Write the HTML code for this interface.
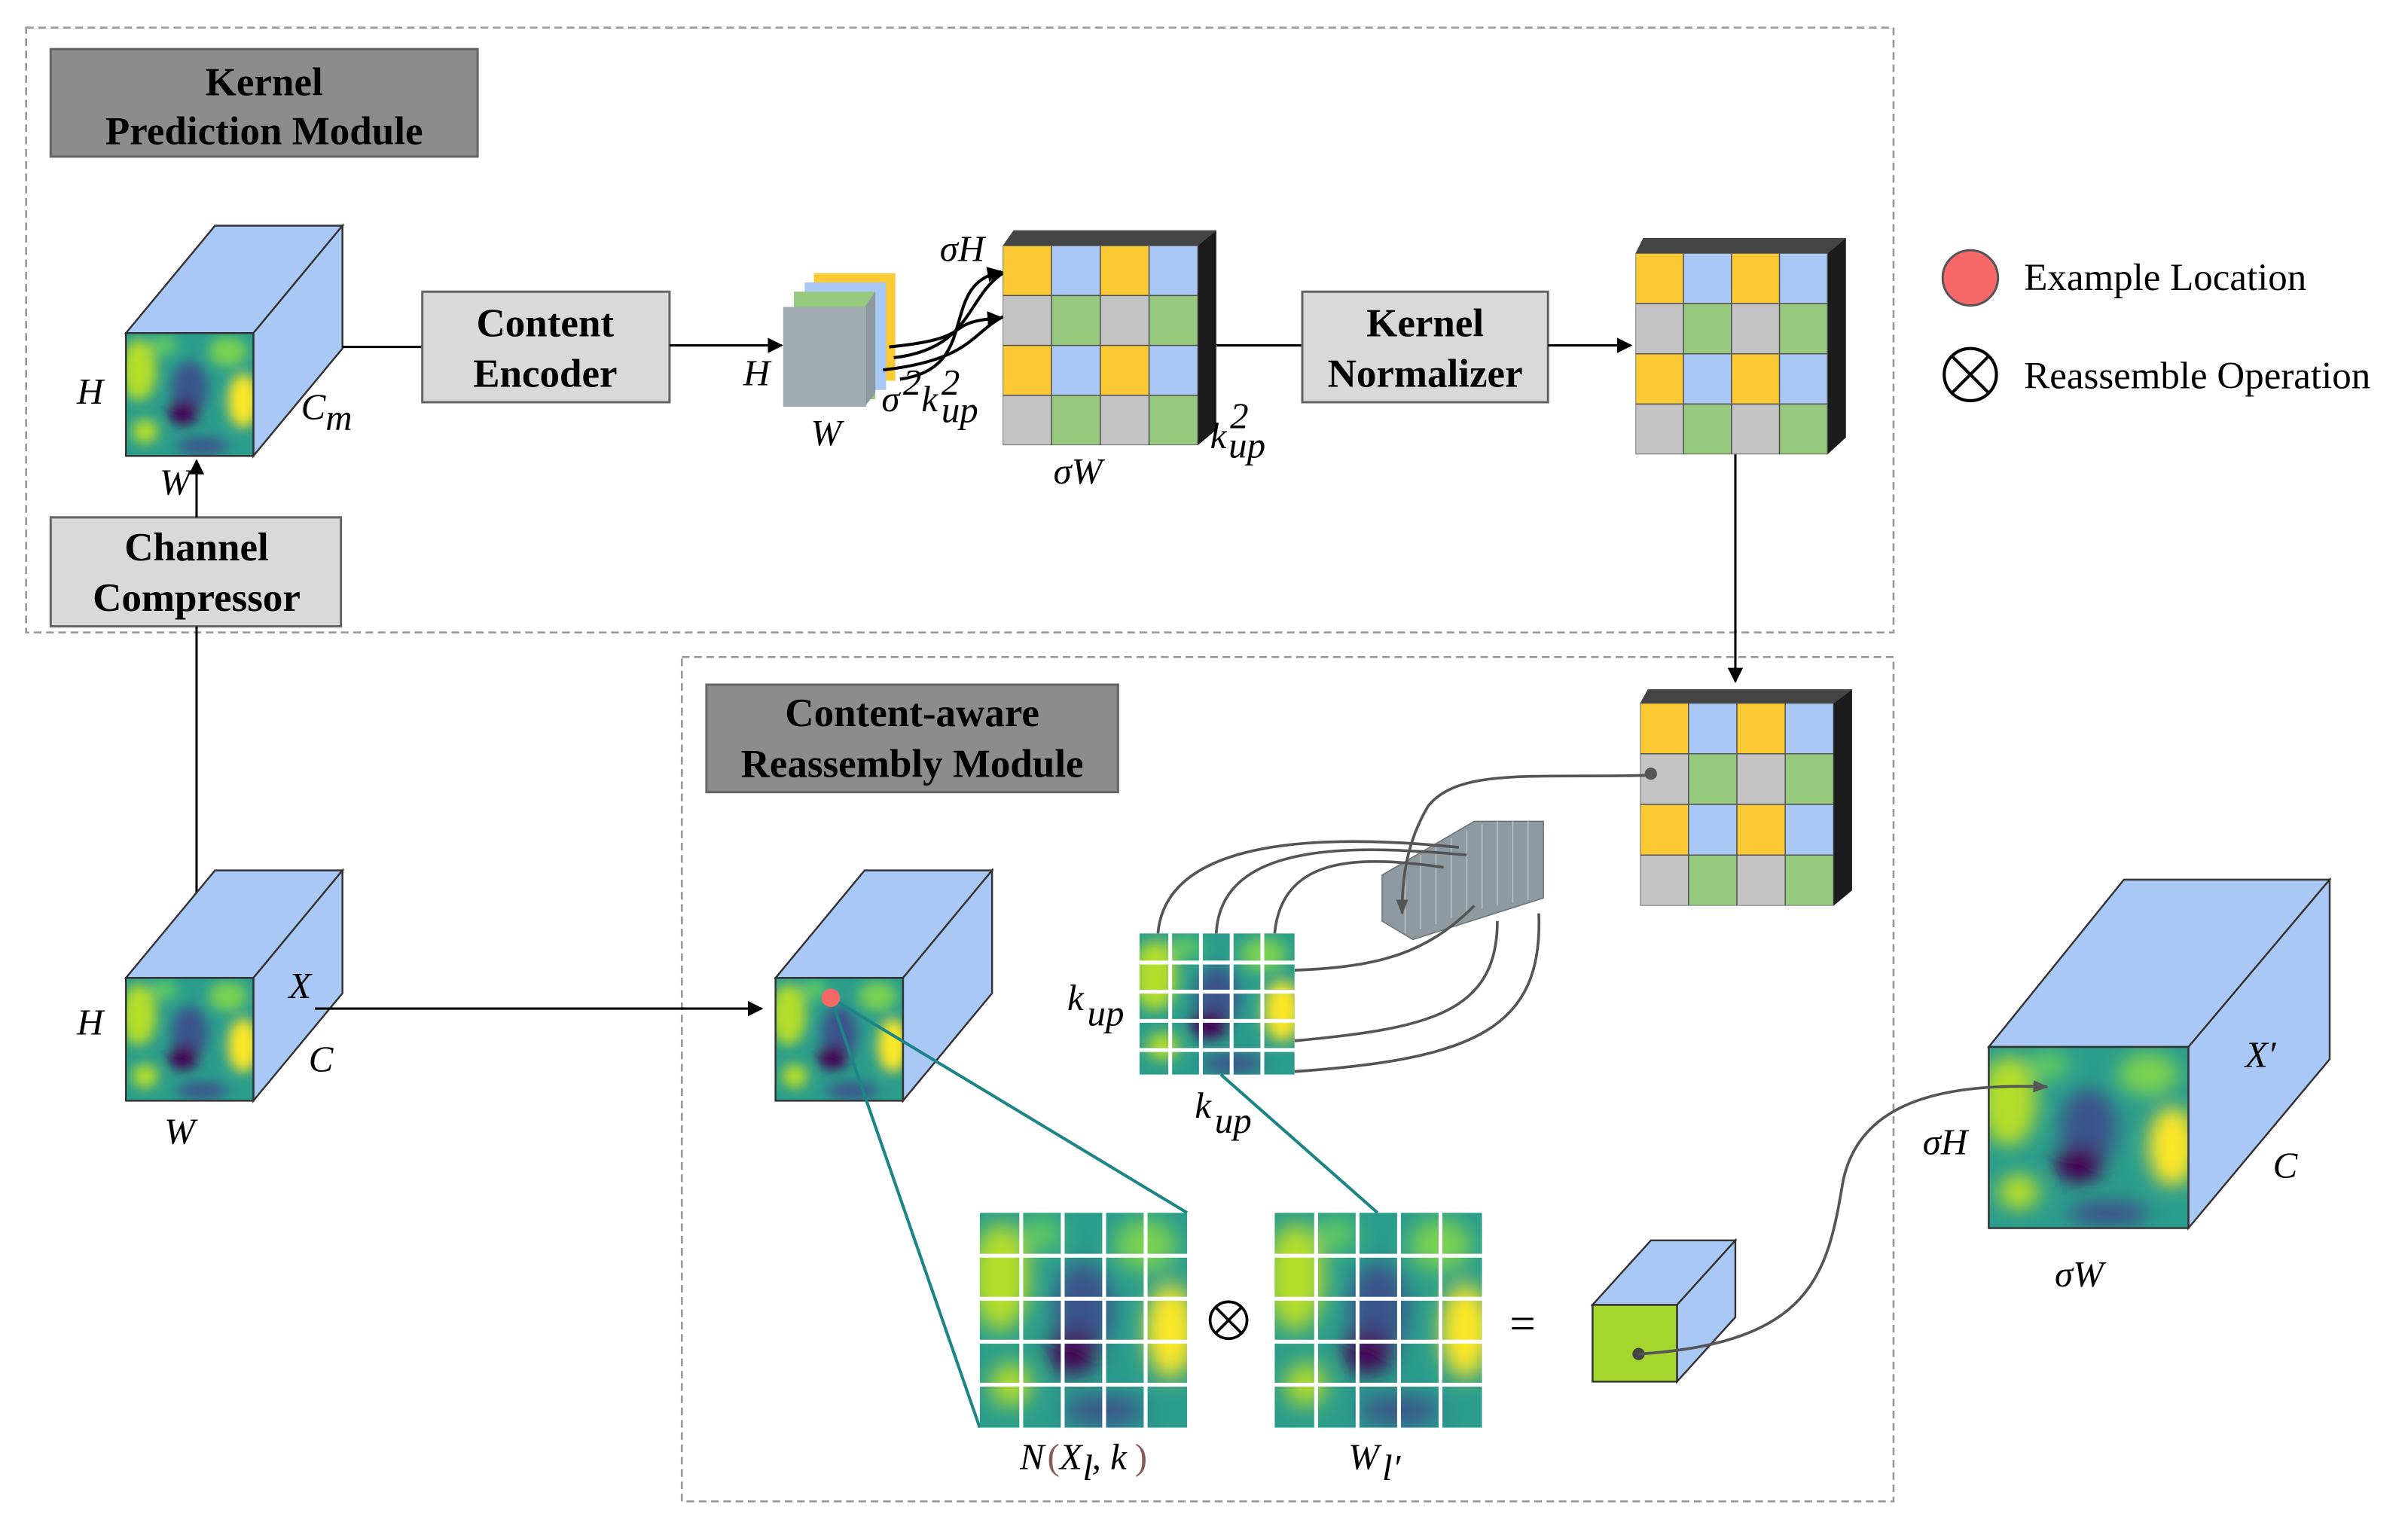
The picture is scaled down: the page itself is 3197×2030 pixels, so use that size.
<!DOCTYPE html>
<html><head><meta charset="utf-8"><style>
html,body{margin:0;padding:0;background:#fff}
svg{display:block}
text{font-family:"Liberation Serif",serif}
.b{font-weight:bold;font-size:26px;text-anchor:middle}
.i{font-style:italic;font-size:24px}
</style></head><body>
<svg width="3197" height="2030" viewBox="0 0 1568 996" preserveAspectRatio="none" xmlns="http://www.w3.org/2000/svg">
<defs>
<filter id="bl" x="-20%" y="-20%" width="140%" height="140%"><feGaussianBlur stdDeviation="5"/></filter>
<symbol id="heat" viewBox="0 0 100 100" preserveAspectRatio="none">
<rect width="100" height="100" fill="#2a9d8c"/>
<g filter="url(#bl)">
<ellipse cx="10" cy="30" rx="14" ry="25" fill="#b5de2b"/>
<ellipse cx="92" cy="55" rx="12" ry="22" fill="#fde725"/>
<ellipse cx="80" cy="15" rx="15" ry="12" fill="#7ad151"/>
<ellipse cx="50" cy="45" rx="14" ry="22" fill="#3b528b"/>
<ellipse cx="45" cy="65" rx="12" ry="10" fill="#440154"/>
<ellipse cx="60" cy="92" rx="20" ry="7" fill="#3b528b"/>
<ellipse cx="15" cy="80" rx="10" ry="10" fill="#b5de2b"/>
<ellipse cx="30" cy="10" rx="10" ry="8" fill="#5ec962"/>
</g>
</symbol>
<symbol id="cg" viewBox="0 0 4 4" preserveAspectRatio="none">
<g stroke="#555" stroke-width="1.5" vector-effect="non-scaling-stroke">
<rect x="0" y="0" width="1" height="1" fill="#fbc934" vector-effect="non-scaling-stroke"/><rect x="1" y="0" width="1" height="1" fill="#a9c8f5" vector-effect="non-scaling-stroke"/><rect x="2" y="0" width="1" height="1" fill="#fbc934" vector-effect="non-scaling-stroke"/><rect x="3" y="0" width="1" height="1" fill="#a9c8f5" vector-effect="non-scaling-stroke"/>
<rect x="0" y="1" width="1" height="1" fill="#c4c4c4" vector-effect="non-scaling-stroke"/><rect x="1" y="1" width="1" height="1" fill="#96c97d" vector-effect="non-scaling-stroke"/><rect x="2" y="1" width="1" height="1" fill="#c4c4c4" vector-effect="non-scaling-stroke"/><rect x="3" y="1" width="1" height="1" fill="#96c97d" vector-effect="non-scaling-stroke"/>
<rect x="0" y="2" width="1" height="1" fill="#fbc934" vector-effect="non-scaling-stroke"/><rect x="1" y="2" width="1" height="1" fill="#a9c8f5" vector-effect="non-scaling-stroke"/><rect x="2" y="2" width="1" height="1" fill="#fbc934" vector-effect="non-scaling-stroke"/><rect x="3" y="2" width="1" height="1" fill="#a9c8f5" vector-effect="non-scaling-stroke"/>
<rect x="0" y="3" width="1" height="1" fill="#c4c4c4" vector-effect="non-scaling-stroke"/><rect x="1" y="3" width="1" height="1" fill="#96c97d" vector-effect="non-scaling-stroke"/><rect x="2" y="3" width="1" height="1" fill="#c4c4c4" vector-effect="non-scaling-stroke"/><rect x="3" y="3" width="1" height="1" fill="#96c97d" vector-effect="non-scaling-stroke"/>
</g>
</symbol>
<marker id="ar" markerWidth="10" markerHeight="10" refX="9" refY="5" orient="auto" markerUnits="userSpaceOnUse"><path d="M0,0 L10,5 L0,10 z" fill="#000"/></marker>
<marker id="ag" markerWidth="10" markerHeight="10" refX="9" refY="5" orient="auto" markerUnits="userSpaceOnUse"><path d="M0,1 L10,5 L0,9 z" fill="#555"/></marker>
</defs>

<rect x="17" y="18" width="1216" height="394" fill="none" stroke="#999" stroke-dasharray="5,3" stroke-width="1.3"/>
<rect x="444" y="428" width="789" height="550" fill="none" stroke="#999" stroke-dasharray="5,3" stroke-width="1.3"/>

<rect x="33" y="32" width="278" height="70" fill="#8c8c8c" stroke="#666" stroke-width="1.5"/>
<text class="b" x="172" y="62">Kernel</text><text class="b" x="172" y="94">Prediction Module</text>

<rect x="460" y="446" width="268" height="70" fill="#8c8c8c" stroke="#666" stroke-width="1.5"/>
<text class="b" x="594" y="473">Content-aware</text><text class="b" x="594" y="506">Reassembly Module</text>

<g stroke="#333" stroke-width="1.2">
<polygon points="82,217 140,147 223,147 165,217" fill="#a9c8f5"/>
<polygon points="165,217 223,147 223,227 165,297" fill="#a9c8f5"/>
</g>
<use href="#heat" x="82" y="217" width="83" height="80"/>
<rect x="82" y="217" width="83" height="80" fill="none" stroke="#333" stroke-width="1.2"/>
<text class="i" x="50" y="263">H</text><text class="i" x="196" y="273">C</text><text class="i" x="212" y="280" font-size="16">m</text>
<text class="i" x="104" y="322">W</text>

<rect x="33" y="337" width="189" height="71" fill="#d9d9d9" stroke="#666" stroke-width="1.5"/>
<text class="b" x="128" y="365">Channel</text><text class="b" x="128" y="398">Compressor</text>
<line x1="128" y1="590" x2="128" y2="408" stroke="#000" stroke-width="1.5"/>
<line x1="128" y1="337" x2="128" y2="300" stroke="#000" stroke-width="1.5" marker-end="url(#ar)"/>

<line x1="223" y1="226" x2="275" y2="226" stroke="#000" stroke-width="1.5"/>
<rect x="275" y="190" width="161" height="72" fill="#d9d9d9" stroke="#666" stroke-width="1.5"/>
<text class="b" x="355" y="219">Content</text><text class="b" x="355" y="252">Encoder</text>
<line x1="436" y1="225" x2="509" y2="225" stroke="#000" stroke-width="1.5" marker-end="url(#ar)"/>

<polygon points="530,178 583,178 583,248 530,248" fill="#fbc934"/>
<polygon points="524,184 577,184 577,254 524,254" fill="#a9c8f5"/>
<polygon points="517,190 570,190 570,260 517,260" fill="#96c97d"/>
<polygon points="510,200 563,200 570,190 570,256 563,265" fill="#8e9a9f"/>
<rect x="510" y="200" width="54" height="65" fill="#a2abb0"/>
<text class="i" x="484" y="251">H</text><text class="i" x="528" y="290">W</text>
<text class="i" x="574" y="268">σ</text><text class="i" x="588" y="257" font-size="15">2</text><text class="i" x="600" y="268">k</text><text class="i" x="613" y="257" font-size="15">2</text><text class="i" x="613" y="275" font-size="15">up</text>
<g fill="none" stroke="#000" stroke-width="2">
<path d="M586,247 C640,240 610,185 652,177" marker-end="url(#ar)"/>
<path d="M582,233 C650,225 620,168 690,170" marker-end="url(#ar)"/>
<path d="M579,226 C640,220 610,210 652,207" marker-end="url(#ar)"/>
<path d="M575,241 C655,232 625,200 690,200" marker-end="url(#ar)"/>
</g>

<polygon points="653,160 660,150 792,150 780,160" fill="#444"/>
<polygon points="780,160 792,150 792,280 780,290" fill="#1c1c1c"/>
<use href="#cg" x="653" y="160" width="127" height="130"/>
<text class="i" x="612" y="170">σH</text><text class="i" x="686" y="315">σW</text>
<text class="i" x="788" y="292">k</text><text class="i" x="801" y="279" font-size="15">2</text><text class="i" x="800" y="298" font-size="15">up</text>

<line x1="792" y1="225" x2="848" y2="225" stroke="#000" stroke-width="1.5"/>
<rect x="848" y="190" width="160" height="72" fill="#d9d9d9" stroke="#666" stroke-width="1.5"/>
<text class="b" x="928" y="219">Kernel</text><text class="b" x="928" y="252">Normalizer</text>
<line x1="1008" y1="225" x2="1062" y2="225" stroke="#000" stroke-width="1.5" marker-end="url(#ar)"/>

<polygon points="1065,165 1070,155 1202,155 1190,165" fill="#444"/>
<polygon points="1190,165 1202,155 1202,285 1190,296" fill="#1c1c1c"/>
<use href="#cg" x="1065" y="165" width="125" height="131"/>
<line x1="1130" y1="296" x2="1130" y2="444" stroke="#000" stroke-width="1.5" marker-end="url(#ar)"/>

<polygon points="1068,458 1073,449 1206,449 1194,458" fill="#444"/>
<polygon points="1194,458 1206,449 1206,580 1194,590" fill="#1c1c1c"/>
<use href="#cg" x="1068" y="458" width="126" height="132"/>

<circle cx="1283" cy="181" r="18" fill="#f96868" stroke="#555" stroke-width="1.5"/>
<text x="1318" y="189" font-size="25">Example Location</text>
<circle cx="1283" cy="244" r="17" fill="none" stroke="#000" stroke-width="2"/>
<line x1="1271" y1="232" x2="1295" y2="256" stroke="#000" stroke-width="2"/><line x1="1295" y1="232" x2="1271" y2="256" stroke="#000" stroke-width="2"/>
<text x="1318" y="253" font-size="25">Reassemble Operation</text>

<g stroke="#333" stroke-width="1.2">
<polygon points="82,637 140,567 223,567 165,637" fill="#a9c8f5"/>
<polygon points="165,637 223,567 223,647 165,717" fill="#a9c8f5"/>
</g>
<use href="#heat" x="82" y="637" width="83" height="80"/>
<rect x="82" y="637" width="83" height="80" fill="none" stroke="#333" stroke-width="1.2"/>
<text class="i" x="50" y="674">H</text><text class="i" x="188" y="650">X</text><text class="i" x="201" y="698">C</text><text class="i" x="107" y="745">W</text>
<line x1="205" y1="657" x2="496" y2="657" stroke="#000" stroke-width="1.5" marker-end="url(#ar)"/>

<g stroke="#333" stroke-width="1.2">
<polygon points="505,637 563,567 646,567 588,637" fill="#a9c8f5"/>
<polygon points="588,637 646,567 646,647 588,717" fill="#a9c8f5"/>
</g>
<use href="#heat" x="505" y="637" width="83" height="80"/>
<rect x="505" y="637" width="83" height="80" fill="none" stroke="#333" stroke-width="1.2"/>
<line x1="541" y1="650" x2="638" y2="930" stroke="#1d8585" stroke-width="2"/>
<line x1="541" y1="650" x2="773" y2="790" stroke="#1d8585" stroke-width="2"/>
<circle cx="541" cy="650" r="6" fill="#f96868"/>

<g fill="#8e9a9f" stroke="#6c7579" stroke-width="0.8">
<polygon points="900,570 960,535 1005,535 1005,585 920,612 900,600"/>
</g>
<g stroke="#b0b8bb" stroke-width="1">
<line x1="915" y1="562" x2="915" y2="608"/><line x1="925" y1="557" x2="925" y2="605"/><line x1="935" y1="552" x2="935" y2="602"/><line x1="945" y1="546" x2="945" y2="598"/><line x1="955" y1="541" x2="955" y2="595"/><line x1="965" y1="537" x2="965" y2="592"/><line x1="975" y1="535" x2="975" y2="590"/><line x1="985" y1="535" x2="985" y2="588"/><line x1="995" y1="535" x2="995" y2="586"/>
</g>

<use href="#heat" x="742" y="608" width="101" height="92"/>
<g stroke="#fff" stroke-width="2.5">
<line x1="762" y1="608" x2="762" y2="700"/><line x1="782" y1="608" x2="782" y2="700"/><line x1="802" y1="608" x2="802" y2="700"/><line x1="822" y1="608" x2="822" y2="700"/>
<line x1="742" y1="627" x2="843" y2="627"/><line x1="742" y1="646" x2="843" y2="646"/><line x1="742" y1="665" x2="843" y2="665"/><line x1="742" y1="684" x2="843" y2="684"/>
</g>
<text class="i" x="695" y="658">k</text><text class="i" x="708" y="668" font-size="16">up</text>
<text class="i" x="778" y="728">k</text><text class="i" x="791" y="738" font-size="16">up</text>
<g fill="none" stroke="#555" stroke-width="1.8">
<path d="M754,608 C760,540 880,545 950,552"/>
<path d="M792,608 C795,548 880,550 955,557"/>
<path d="M830,608 C835,555 890,558 940,565"/>
<path d="M843,632 C900,630 930,620 960,590"/>
<path d="M843,678 C930,670 975,660 975,600"/>
<path d="M843,698 C960,690 1005,670 1002,595"/>
<path d="M1075,505 C1000,507 950,500 930,525 C915,550 913,575 913,595" marker-end="url(#ag)"/>
</g>
<circle cx="1075" cy="504" r="4" fill="#555"/>
<line x1="795" y1="700" x2="897" y2="790" stroke="#1d8585" stroke-width="2"/>

<use href="#heat" x="638" y="790" width="135" height="140"/>
<g stroke="#fff" stroke-width="2.5">
<line x1="665" y1="790" x2="665" y2="930"/><line x1="692" y1="790" x2="692" y2="930"/><line x1="719" y1="790" x2="719" y2="930"/><line x1="746" y1="790" x2="746" y2="930"/>
<line x1="638" y1="818" x2="773" y2="818"/><line x1="638" y1="846" x2="773" y2="846"/><line x1="638" y1="874" x2="773" y2="874"/><line x1="638" y1="902" x2="773" y2="902"/>
</g>
<text class="i" x="664" y="957">N</text><text x="682" y="957" font-size="24" fill="#8a5a5a">(</text><text class="i" x="690" y="957">X</text><text class="i" x="705" y="964" font-size="15">l</text><text class="i" x="711" y="957">,</text><text class="i" x="723" y="957">k</text><text x="739" y="957" font-size="24" fill="#8a5a5a">)</text>

<circle cx="800" cy="860" r="12" fill="none" stroke="#000" stroke-width="1.8"/>
<line x1="791" y1="851" x2="809" y2="869" stroke="#000" stroke-width="1.8"/><line x1="809" y1="851" x2="791" y2="869" stroke="#000" stroke-width="1.8"/>

<use href="#heat" x="830" y="790" width="135" height="140"/>
<g stroke="#fff" stroke-width="2.5">
<line x1="857" y1="790" x2="857" y2="930"/><line x1="884" y1="790" x2="884" y2="930"/><line x1="911" y1="790" x2="911" y2="930"/><line x1="938" y1="790" x2="938" y2="930"/>
<line x1="830" y1="818" x2="965" y2="818"/><line x1="830" y1="846" x2="965" y2="846"/><line x1="830" y1="874" x2="965" y2="874"/><line x1="830" y1="902" x2="965" y2="902"/>
</g>
<text class="i" x="878" y="957">W</text><text class="i" x="900" y="964" font-size="15">l′</text>
<text x="983" y="872" font-size="30">=</text>

<g stroke="#333" stroke-width="1.2">
<polygon points="1037,850 1075,808 1130,808 1092,850" fill="#a9c8f5"/>
<polygon points="1092,850 1130,808 1130,858 1092,900" fill="#a9c8f5"/>
<rect x="1037" y="850" width="55" height="50" fill="#a4d62e"/>
</g>
<circle cx="1067" cy="882" r="4" fill="#444"/>
<path d="M1067,882 C1180,875 1190,830 1200,770" fill="none" stroke="#555" stroke-width="1.8"/>

<g stroke="#333" stroke-width="1.2">
<polygon points="1295,682 1383,573 1517,573 1425,682" fill="#a9c8f5"/>
<polygon points="1425,682 1517,573 1517,690 1425,800" fill="#a9c8f5"/>
</g>
<use href="#heat" x="1295" y="682" width="130" height="118"/>
<rect x="1295" y="682" width="130" height="118" fill="none" stroke="#333" stroke-width="1.2"/>
<path d="M1200,770 C1210,720 1260,705 1333,708" fill="none" stroke="#555" stroke-width="1.8" marker-end="url(#ag)"/>
<text class="i" x="1462" y="695">X′</text><text class="i" x="1480" y="767">C</text>
<text class="i" x="1252" y="752">σH</text><text class="i" x="1338" y="838">σW</text>
</svg>
</body></html>
